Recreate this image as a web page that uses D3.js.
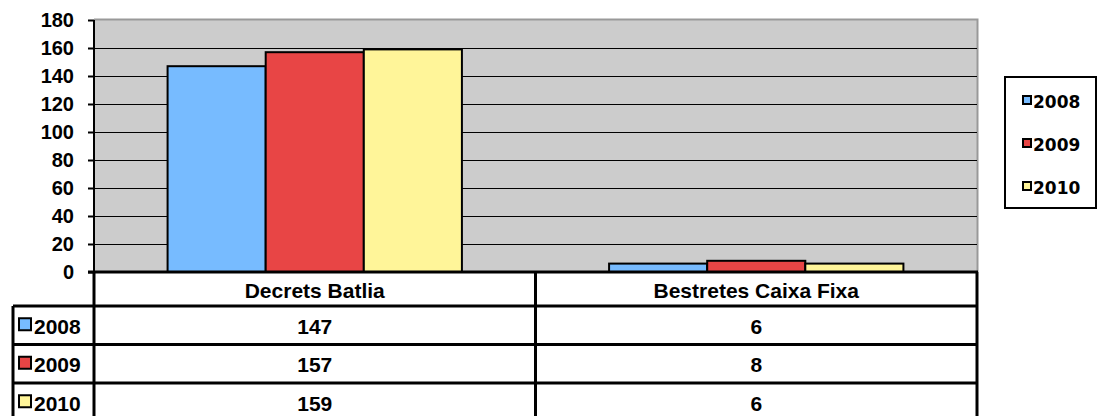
<!DOCTYPE html>
<html>
<head>
<meta charset="utf-8">
<script src="https://cdn.jsdelivr.net/npm/d3@7"></script>
<style>
  body { margin: 0; background: #fff; }
  svg { display: block; font-family: "Liberation Sans", Arial, sans-serif; font-weight: bold; }
</style>
</head>
<body>
<svg></svg>
<script>
// data
var categories = ["Decrets Batlia", "Bestretes Caixa Fixa"];
var years = ["2008", "2009", "2010"];
var values2008 = [147, 6];
var values2009 = [157, 8];
var values2010 = [159, 6];
var colors = ["#77BBFF", "#E84545", "#FFF599"];

var series = [values2008, values2009, values2010];

// dimensions
var width = 1097, height = 416;
var plot = {left: 94, right: 977, top: 20, bottom: 272};
var tableLeft = 13, rowH = 38.5, headH = 34;

var svg = d3.select("svg")
  .attr("width", width)
  .attr("height", height);

var y = d3.scaleLinear()
  .domain([0, 180])
  .range([plot.bottom, plot.top]);

var x0 = d3.scaleBand()
  .domain(categories)
  .range([plot.left, plot.right]);

var x1 = d3.scaleBand()
  .domain(years)
  .range([0, x0.bandwidth()])
  .paddingOuter(0.75);

// plot background
svg.append("rect")
  .attr("x", plot.left).attr("y", plot.top)
  .attr("width", plot.right - plot.left).attr("height", plot.bottom - plot.top)
  .attr("fill", "#cccccc");
svg.append("path")
  .attr("d", "M" + plot.left + "," + (plot.top - 0.5) + "H" + (plot.right + 0.5) + "V" + plot.bottom)
  .attr("fill", "none").attr("stroke", "#999").attr("stroke-width", 2);

// gridlines
svg.append("g")
  .selectAll("line")
  .data(y.ticks(10).filter(function(d) { return d > 0 && d < 180; }))
  .enter().append("line")
  .attr("x1", plot.left).attr("x2", plot.right)
  .attr("y1", function(d) { return Math.round(y(d)) + 0.5; })
  .attr("y2", function(d) { return Math.round(y(d)) + 0.5; })
  .attr("stroke", "#000").attr("stroke-width", 1);

// y axis
var yAxis = svg.append("g")
  .attr("transform", "translate(" + plot.left + ",0)")
  .call(d3.axisLeft(y).ticks(10).tickSize(6).tickPadding(14));
yAxis.select(".domain").attr("stroke-width", 2).attr("d", "M0," + plot.top + "V" + (plot.bottom + 8));
yAxis.selectAll(".tick line").attr("stroke-width", 2);
yAxis.selectAll(".tick text")
  .attr("font-size", 20).attr("font-weight", "bold").attr("font-family", "'Liberation Sans', Arial, sans-serif")
  .attr("fill", "#000");

// bars
var groups = svg.append("g")
  .selectAll("g")
  .data(categories)
  .enter().append("g")
  .attr("transform", function(d) { return "translate(" + x0(d) + ",0)"; });

groups.selectAll("rect")
  .data(function(d, i) { return years.map(function(yr, j) { return {year: yr, value: series[j][i], color: colors[j]}; }); })
  .enter().append("rect")
  .attr("x", function(d) { return x1(d.year); })
  .attr("y", function(d) { return y(d.value); })
  .attr("width", x1.bandwidth())
  .attr("height", function(d) { return y(0) - y(d.value); })
  .attr("fill", function(d) { return d.color; })
  .attr("stroke", "#000").attr("stroke-width", 2);

// data table
var table = svg.append("g");
var tableBottom = plot.bottom + headH + rowH * 3;
var colBounds = [plot.left].concat(categories.map(function(c) { return x0(c) + x0.bandwidth(); }));

// x axis line
table.append("line")
  .attr("x1", plot.left - 6).attr("x2", plot.right + 1)
  .attr("y1", plot.bottom).attr("y2", plot.bottom)
  .attr("stroke", "#000").attr("stroke-width", 3);

// vertical lines
colBounds.forEach(function(cx) {
  table.append("line")
    .attr("x1", cx).attr("x2", cx)
    .attr("y1", plot.bottom).attr("y2", tableBottom)
    .attr("stroke", "#000").attr("stroke-width", 3);
});
table.append("line")
  .attr("x1", tableLeft).attr("x2", tableLeft)
  .attr("y1", plot.bottom + headH).attr("y2", tableBottom)
  .attr("stroke", "#000").attr("stroke-width", 3);

// horizontal lines
d3.range(4).forEach(function(i) {
  var ly = plot.bottom + headH + rowH * i;
  table.append("line")
    .attr("x1", tableLeft).attr("x2", plot.right + 1)
    .attr("y1", ly).attr("y2", ly)
    .attr("stroke", "#000").attr("stroke-width", 3);
});

// header labels
table.selectAll(".cat")
  .data(categories)
  .enter().append("text")
  .attr("x", function(d) { return x0(d) + x0.bandwidth() / 2; })
  .attr("y", plot.bottom + headH / 2 + 1)
  .attr("text-anchor", "middle").attr("dominant-baseline", "central")
  .attr("font-size", 21)
  .text(function(d) { return d; });

// rows
years.forEach(function(yr, j) {
  var cy = plot.bottom + headH + rowH * j + rowH / 2;
  table.append("rect")
    .attr("x", 19).attr("y", cy - 7)
    .attr("width", 12).attr("height", 12)
    .attr("fill", colors[j]).attr("stroke", "#000").attr("stroke-width", 2);
  table.append("text")
    .attr("x", 34).attr("y", cy + 1)
    .attr("dominant-baseline", "central")
    .attr("font-size", 21)
    .text(yr);
  categories.forEach(function(c, i) {
    table.append("text")
      .attr("x", x0(c) + x0.bandwidth() / 2)
      .attr("y", cy + 1)
      .attr("text-anchor", "middle").attr("dominant-baseline", "central")
      .attr("font-size", 21)
      .text(series[j][i]);
  });
});

// legend
var legend = svg.append("g");
legend.append("rect")
  .attr("x", 1005).attr("y", 77)
  .attr("width", 91).attr("height", 131)
  .attr("fill", "#fff").attr("stroke", "#000").attr("stroke-width", 2);
var legendY = d3.scalePoint().domain(years).range([101, 187]);
years.forEach(function(yr, j) {
  legend.append("rect")
    .attr("x", 1023).attr("y", legendY(yr) - 5)
    .attr("width", 8).attr("height", 8)
    .attr("fill", colors[j]).attr("stroke", "#000").attr("stroke-width", 2);
  legend.append("text")
    .attr("x", 1033).attr("y", legendY(yr) + 1)
    .attr("dominant-baseline", "central")
    .attr("font-family", "'DejaVu Sans', sans-serif")
    .attr("font-size", 17)
    .text(yr);
});
</script>
</body>
</html>
